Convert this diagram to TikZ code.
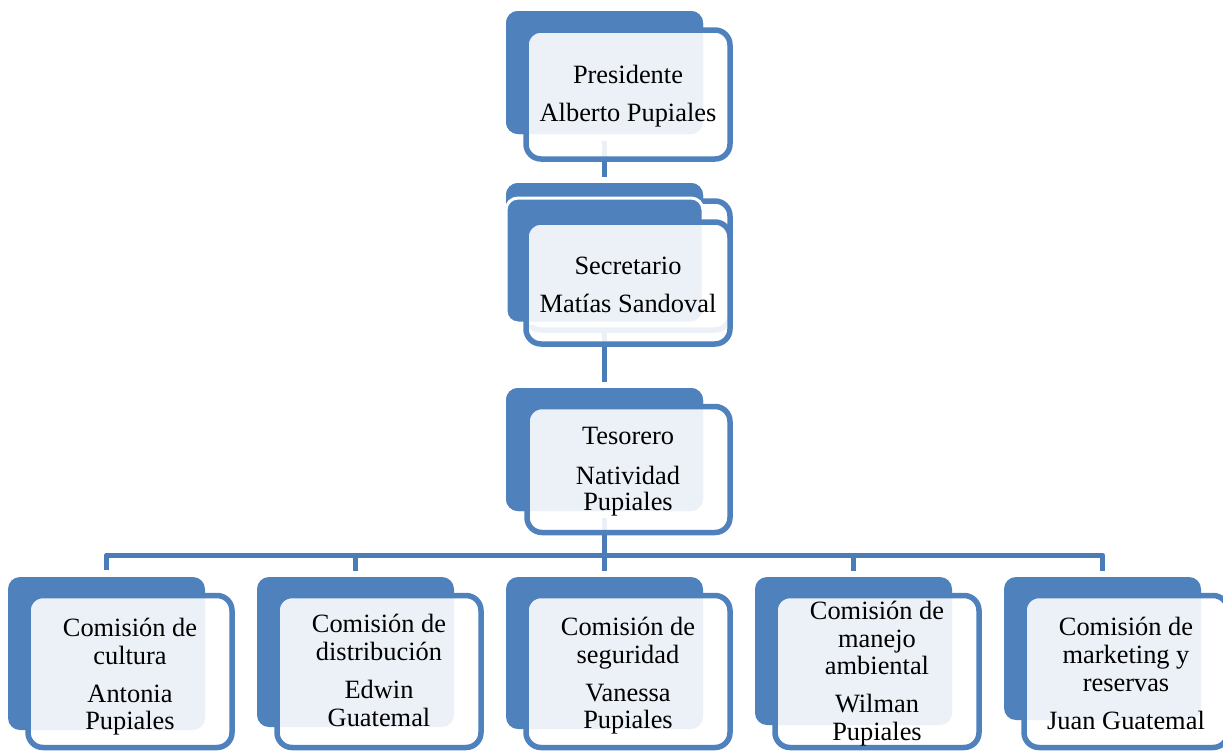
\documentclass[tikz,border=0pt]{standalone}
\usepackage{fontspec}
\setmainfont{Liberation Serif}
\definecolor{boxblue}{HTML}{4F81BD}
\definecolor{connblue}{HTML}{4A7CB8}
\tikzset{
  backbox/.style={fill=boxblue, draw=none, rounded corners=12pt, inner sep=0pt, outer sep=0pt},
  frontbox/.style={draw=boxblue, line width=5.5pt, fill=white, fill opacity=0.89, draw opacity=1, rounded corners=15pt, inner sep=0pt, outer sep=0pt},
  boxtext/.style={align=center, font=\fontsize{26.4pt}{27.6pt}\selectfont, inner sep=0pt, text=black},
  conn/.style={draw=connblue, line width=5pt, line join=round, shorten <=7pt, shorten >=6pt}
}
\begin{document}
\begin{tikzpicture}[x=1pt, y=-1pt]
\path[use as bounding box] (0,0) rectangle (1223,750);
\clip (0,0) rectangle (1223,750);

% back boxes (named first so connectors can use them)
\node[backbox, minimum width=197pt, minimum height=123pt] (pb) at (604.5,72.5) {};
\node[backbox, minimum width=197pt, minimum height=140pt] (sb1) at (604.5,253) {};
\node[backbox, minimum width=197pt, minimum height=123pt] (tb) at (604.5,449.5) {};
\node[backbox, minimum width=197pt, minimum height=153pt] (b1) at (106.5,653.5) {};
\node[backbox, minimum width=197pt, minimum height=150pt] (b2) at (355.5,652) {};
\node[backbox, minimum width=197pt, minimum height=152pt] (b3) at (604.5,653) {};
\node[backbox, minimum width=197pt, minimum height=148pt] (b4) at (853.5,651) {};
\node[backbox, minimum width=197pt, minimum height=143pt] (b5) at (1102.5,648.5) {};

% connectors
\coordinate (bus) at (604.5,555);
\draw[conn] (pb.south) -- (sb1.north);
\draw[conn] (sb1.south) -- (tb.north);
\draw[conn, shorten >=0pt] (tb.south) -- (bus);
\draw[conn] (b1.north) -- (b1.north |- bus) -- (b5.north |- bus) -- (b5.north);
\draw[conn, shorten <=0pt] (b2.north |- bus) -- (b2.north);
\draw[conn, shorten <=0pt] (b3.north |- bus) -- (b3.north);
\draw[conn, shorten <=0pt] (b4.north |- bus) -- (b4.north);

% redraw back boxes above connectors
\fill[boxblue, rounded corners=12pt] (pb.south west) rectangle (pb.north east);
\fill[boxblue, rounded corners=12pt] (sb1.south west) rectangle (sb1.north east);
\fill[boxblue, rounded corners=12pt] (tb.south west) rectangle (tb.north east);

% Presidente
\node[frontbox, minimum width=204pt, minimum height=129pt] (pf) at (628,94.5) {};
\node[boxtext] (pt) at (628,96) {Presidente\\[10.4pt]Alberto Pupiales};

% Secretario (stacked)
\node[frontbox, minimum width=204pt, minimum height=129pt] (sf1) at (628,265.5) {};
\node[backbox, draw=white, line width=3pt, minimum width=197pt, minimum height=125pt] (sb2) at (604.5,260.5) {};
\node[frontbox, minimum width=204pt, minimum height=122pt] (sf2) at (628,283) {};
\node[boxtext] (st) at (628,285) {Secretario\\[10.4pt]Matías Sandoval};

% Tesorero
\node[frontbox, minimum width=203pt, minimum height=126pt] (tf) at (628.5,469.5) {};
\node[boxtext] (tt) at (628,472) {Tesorero\\[12.4pt]Natividad\\[-1.6pt]Pupiales};

% Bottom row
\node[frontbox, minimum width=204pt, minimum height=152pt] (f1) at (130,671.5) {};
\node[boxtext] (t1) at (130,677) {Comisión de\\cultura\\[10.4pt]Antonia\\Pupiales};

\node[frontbox, minimum width=204pt, minimum height=152pt] (f2) at (379,671.5) {};
\node[boxtext] (t2) at (379,670.5) {Comisión de\\distribución\\[10.4pt]Edwin\\Guatemal};

\node[frontbox, minimum width=204pt, minimum height=152pt] (f3) at (628,671.5) {};
\node[boxtext] (t3) at (628,676) {Comisión de\\seguridad\\[10.4pt]Vanessa\\Pupiales};

\node[frontbox, minimum width=204pt, minimum height=152pt] (f4) at (877,671.5) {};
\node[boxtext] (t4) at (877,673.5) {Comisión de\\manejo\\ambiental\\[10.4pt]Wilman\\Pupiales};

\node[frontbox, minimum width=204pt, minimum height=152pt] (f5) at (1126,671.5) {};
\node[boxtext] (t5) at (1126,673.5) {Comisión de\\marketing y\\reservas\\[10.4pt]Juan Guatemal};
\end{tikzpicture}
\end{document}
